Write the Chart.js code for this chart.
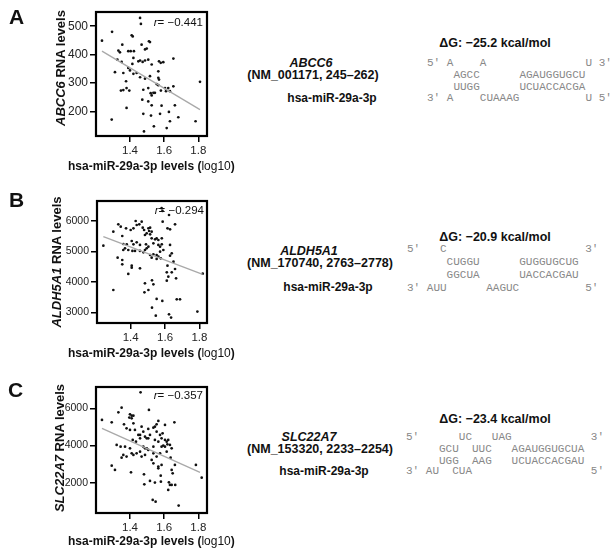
<!DOCTYPE html>
<html>
<head>
<meta charset="utf-8">
<script src="https://cdn.jsdelivr.net/npm/chart.js@4.4.1/dist/chart.umd.min.js"></script>
<style>
  body { margin: 0; width: 613px; height: 555px; background: #fff; position: relative; overflow: hidden;
         font-family: 'Liberation Sans', Arial, sans-serif; color: #111; }
  canvas { position: absolute; left: 0; }
  .t { position: absolute; white-space: nowrap; line-height: 1; transform: translate(-50%, -50%); }
  .b { font-weight: bold; }
  .letter { position: absolute; font-weight: bold; font-size: 21px; line-height: 1; transform: translateY(-50%); }
  .vt { position: absolute; white-space: nowrap; font-weight: bold; font-size: 13px; line-height: 1;
        transform: translate(-50%, -50%) rotate(-90deg); }
  .xt { position: absolute; white-space: nowrap; font-weight: bold; font-size: 12px; line-height: 1; transform: translateY(-50%); }
  .xt span { font-weight: normal; }
  .r { position: absolute; white-space: nowrap; font-size: 11.5px; line-height: 1; transform: translate(-100%, -50%); }
  .seq { position: absolute; font-family: 'Liberation Mono', 'Courier New', monospace; font-size: 11px;
         color: #888; white-space: pre; line-height: 12px; }
</style>
</head>
<body>
<canvas id="chartA" width="230" height="170" style="top:0px"></canvas>
<canvas id="chartB" width="230" height="168" style="top:189px"></canvas>
<canvas id="chartC" width="230" height="172" style="top:375px"></canvas>

<!-- panel letters -->
<div class="letter" style="left:9px;top:16px">A</div>
<div class="letter" style="left:9px;top:199px">B</div>
<div class="letter" style="left:8px;top:389px">C</div>

<!-- axis titles -->
<div class="vt" style="left:60px;top:68px"><i>ABCC6</i> RNA levels</div>
<div class="vt" style="left:56px;top:262px"><i>ALDH5A1</i> RNA levels</div>
<div class="vt" style="left:59px;top:448px"><i>SLC22A7</i> RNA levels</div>
<div class="xt" style="left:68px;top:166px">hsa-miR-29a-3p levels (<span>log10</span>)</div>
<div class="xt" style="left:68px;top:353px">hsa-miR-29a-3p levels (<span>log10</span>)</div>
<div class="xt" style="left:68px;top:541px">hsa-miR-29a-3p levels (<span>log10</span>)</div>

<!-- correlation labels -->
<div class="r" style="left:203px;top:23px"><i>r</i>= −0.441</div>
<div class="r" style="left:204px;top:211px"><i>r</i>= −0.294</div>
<div class="r" style="left:203px;top:396px"><i>r</i>= −0.357</div>

<!-- A: ABCC6 -->
<div class="t b" style="left:495px;top:43px;font-size:12.5px">ΔG: −25.2 kcal/mol</div>
<div class="t b" style="left:311px;top:63px;font-size:12.5px"><i>ABCC6</i></div>
<div class="t b" style="left:313px;top:75px;font-size:12.5px">(NM_001171, 245–262)</div>
<div class="t b" style="left:332px;top:98px;font-size:12px">hsa-miR-29a-3p</div>
<div class="seq" style="left:427px;top:57px">5' A    A               U 3'</div>
<div class="seq" style="left:427px;top:69px">    AGCC      AGAUGGUGCU</div>
<div class="seq" style="left:427px;top:81px">    UUGG      UCUACCACGA</div>
<div class="seq" style="left:427px;top:92px">3' A    CUAAAG          U 5'</div>

<!-- B: ALDH5A1 -->
<div class="t b" style="left:495px;top:237px;font-size:12.5px">ΔG: −20.9 kcal/mol</div>
<div class="t b" style="left:309px;top:251px;font-size:12.5px"><i>ALDH5A1</i></div>
<div class="t b" style="left:320px;top:263px;font-size:12.5px">(NM_170740, 2763–2778)</div>
<div class="t b" style="left:328px;top:287px;font-size:12px">hsa-miR-29a-3p</div>
<div class="seq" style="left:407px;top:243px">5'   C                     3'</div>
<div class="seq" style="left:407px;top:256px">      CUGGU      GUGGUGCUG</div>
<div class="seq" style="left:407px;top:269px">      GGCUA      UACCACGAU</div>
<div class="seq" style="left:407px;top:282px">3' AUU      AAGUC          5'</div>

<!-- C: SLC22A7 -->
<div class="t b" style="left:495px;top:419px;font-size:12.5px">ΔG: −23.4 kcal/mol</div>
<div class="t b" style="left:309px;top:437px;font-size:12.5px"><i>SLC22A7</i></div>
<div class="t b" style="left:320px;top:449px;font-size:12.5px">(NM_153320, 2233–2254)</div>
<div class="t b" style="left:324px;top:471px;font-size:12px">hsa-miR-29a-3p</div>
<div class="seq" style="left:406px;top:431px">5'      UC   UAG            3'</div>
<div class="seq" style="left:406px;top:443px">     GCU  UUC   AGAUGGUGCUA</div>
<div class="seq" style="left:406px;top:455px">     UGG  AAG   UCUACCACGAU</div>
<div class="seq" style="left:406px;top:465px">3' AU  CUA                  5'</div>

<script>
// x axis ticks shared by all panels (log10 miRNA level)
const xTickValues = [1.4, 1.6, 1.8];

// Panel A - ABCC6
const abcc6X = [1.459,1.464,1.295,1.236,1.410,1.416,1.355,1.468,1.511,1.517,1.488,1.498,1.332,1.341,1.390,1.404,1.423,1.326,1.351,1.420,1.449,1.459,1.474,1.488,1.507,1.570,1.580,1.595,1.654,1.414,1.390,1.400,1.527,1.566,1.312,1.361,1.420,1.439,1.459,1.488,1.517,1.566,1.570,1.377,1.556,1.566,1.810,1.380,1.347,1.361,1.396,1.478,1.507,1.521,1.537,1.546,1.527,1.605,1.624,1.611,1.634,1.654,1.581,1.472,1.507,1.527,1.585,1.380,1.663,1.628,1.478,1.523,1.576,1.293,1.683,1.784,1.540,1.615,1.482,1.634];
const abcc6Y = [529,508,480,449,468,464,435,435,447,444,418,421,414,408,412,412,412,382,374,388,376,379,374,379,382,376,371,373,386,367,353,344,365,341,338,335,332,335,320,315,324,318,312,306,296,292,304,282,273,275,273,276,282,264,265,265,256,282,282,271,271,288,273,241,235,221,220,212,221,198,191,185,191,171,179,165,147,141,129,165];
const abcc6FitX = [1.236, 1.810];
const abcc6FitY = [412, 206];
const abcc6Ticks = [200, 300, 400, 500];

// Panel B - ALDH5A1
const aldhX = [1.241,1.299,1.328,1.342,1.351,1.373,1.400,1.416,1.429,1.435,1.450,1.464,1.470,1.478,1.503,1.513,1.507,1.493,1.522,1.513,1.483,1.586,1.614,1.629,1.658,1.357,1.377,1.367,1.386,1.357,1.406,1.416,1.435,1.454,1.410,1.425,1.454,1.474,1.483,1.493,1.503,1.489,1.522,1.542,1.551,1.561,1.581,1.532,1.561,1.571,1.581,1.590,1.629,1.639,1.629,1.513,1.532,1.551,1.561,1.571,1.575,1.551,1.522,1.324,1.351,1.351,1.406,1.406,1.454,1.386,1.614,1.649,1.610,1.639,1.619,1.658,1.664,1.483,1.524,1.532,1.610,1.299,1.503,1.480,1.551,1.584,1.524,1.668,1.687,1.546,1.623,1.635,1.788,1.819,1.580,1.585,1.623];
const aldhY = [5190,5650,5890,5814,5507,5759,5704,5759,6000,5869,5890,5978,5781,5704,5759,5781,5672,5595,5650,5562,5540,5978,5759,5726,5890,5244,5234,5102,5047,5047,5343,5234,5299,5212,5015,5015,5015,4971,5047,5102,5157,5234,5431,5398,5431,5376,5431,5266,5212,5157,5234,5047,5212,4938,4861,4883,4905,4883,4828,4993,4774,4752,4796,4796,4719,4577,4533,4467,4445,4259,4533,4664,4314,4314,4171,4423,4117,3952,4051,3920,4040,3733,3733,3657,3438,3372,3153,3427,3427,2890,2934,2825,3022,4270,6420,6330,6197];
const aldhFitX = [1.241, 1.819];
const aldhFitY = [5485, 4248];
const aldhTicks = [3000, 4000, 5000, 6000];

// Panel C - SLC22A7
const slcX = [1.462,1.351,1.332,1.236,1.293,1.400,1.410,1.420,1.396,1.410,1.511,1.365,1.380,1.420,1.429,1.400,1.468,1.459,1.478,1.488,1.498,1.507,1.517,1.449,1.507,1.537,1.546,1.556,1.566,1.556,1.576,1.605,1.660,1.591,1.585,1.605,1.615,1.624,1.619,1.605,1.585,1.595,1.634,1.644,1.566,1.546,1.537,1.322,1.345,1.371,1.416,1.435,1.459,1.478,1.488,1.400,1.459,1.498,1.507,1.439,1.420,1.361,1.351,1.380,1.410,1.537,1.556,1.576,1.468,1.488,1.527,1.615,1.638,1.585,1.293,1.312,1.406,1.537,1.566,1.566,1.644,1.650,1.663,1.482,1.517,1.484,1.546,1.580,1.581,1.628,1.634,1.644,1.624,1.665,1.786,1.820,1.533,1.550,1.685];
const slcY = [6861,6036,5785,5372,5247,5677,5605,5605,5498,5462,5910,5139,4924,5193,4834,4834,5013,4565,4744,4475,4385,4385,4565,4565,4888,4959,5013,5139,5318,4744,4565,5103,5247,4654,4385,4296,4206,4296,4062,3937,3937,3991,4027,3847,4206,4296,3937,4027,3937,3937,4296,4206,4385,3937,3847,3847,3668,3847,3758,3578,3488,3488,3345,3399,3578,3578,3399,3578,3399,3488,3219,3668,3345,2950,2914,2681,2556,3040,2861,2771,2681,2502,2950,2448,2089,1910,2000,2376,2053,2017,1874,1874,1605,1874,2950,2268,1067,977,762];
const slcFitX = [1.236, 1.810];
const slcFitY = [4924, 2556];
const slcTicks = [2000, 4000, 6000];

const fontFamily = "'Liberation Sans', Arial, sans-serif";

// draws the closed black box round the plot area
const frameBox = {
  id: 'frameBox',
  afterDraw(chart) {
    const a = chart.chartArea;
    const ctx = chart.ctx;
    ctx.save();
    ctx.strokeStyle = '#000';
    ctx.lineWidth = 2.2;
    ctx.strokeRect(a.left, a.top, a.right - a.left, a.bottom - a.top);
    ctx.restore();
  }
};

function makePanel(id, xs, ys, fitX, fitY, xMin, xMax, yMin, yMax, yTicks, yAxisWidth, yFontSize) {
  const pts = xs.map((x, i) => ({ x: x, y: ys[i] }));
  const fit = fitX.map((x, i) => ({ x: x, y: fitY[i] }));
  return new Chart(document.getElementById(id), {
    type: 'scatter',
    data: {
      datasets: [
        {
          data: fit,
          showLine: true,
          borderColor: '#a9a9a9',
          borderWidth: 1.3,
          pointRadius: 0
        },
        {
          data: pts,
          pointRadius: 1.35,
          pointBackgroundColor: '#111',
          pointBorderWidth: 0
        }
      ]
    },
    options: {
      responsive: false,
      animation: false,
      devicePixelRatio: 1,
      layout: { padding: { top: 12, right: 23, left: 0, bottom: 0 } },
      plugins: { legend: { display: false }, tooltip: { enabled: false } },
      scales: {
        x: {
          type: 'linear',
          min: xMin,
          max: xMax,
          afterBuildTicks: s => { s.ticks = xTickValues.map(v => ({ value: v })); },
          afterFit: s => { s.height = 34; },
          border: { display: false },
          grid: { drawOnChartArea: false, drawTicks: true, tickLength: 6, color: '#000', lineWidth: 1.5 },
          ticks: { color: '#222', padding: 2, font: { family: fontFamily, size: 11.5 }, maxRotation: 0,
                   callback: v => v.toFixed(1) }
        },
        y: {
          type: 'linear',
          min: yMin,
          max: yMax,
          afterBuildTicks: s => { s.ticks = yTicks.map(v => ({ value: v })); },
          afterFit: s => { s.width = yAxisWidth; },
          border: { display: false },
          grid: { drawOnChartArea: false, drawTicks: true, tickLength: 6, color: '#000', lineWidth: 1.5 },
          ticks: { color: '#222', padding: 2, font: { family: fontFamily, size: yFontSize },
                   callback: v => String(v) }
        }
      }
    },
    plugins: [frameBox]
  });
}

makePanel('chartA', abcc6X, abcc6Y, abcc6FitX, abcc6FitY, 1.201, 1.851, 113, 550, abcc6Ticks, 96, 12);
makePanel('chartB', aldhX, aldhY, aldhFitX, aldhFitY, 1.204, 1.844, 2648, 6657, aldhTicks, 97, 10.5);
makePanel('chartC', slcX, slcY, slcFitX, slcFitY, 1.201, 1.851, 365, 7146, slcTicks, 96, 10.5);
</script>
</body>
</html>
